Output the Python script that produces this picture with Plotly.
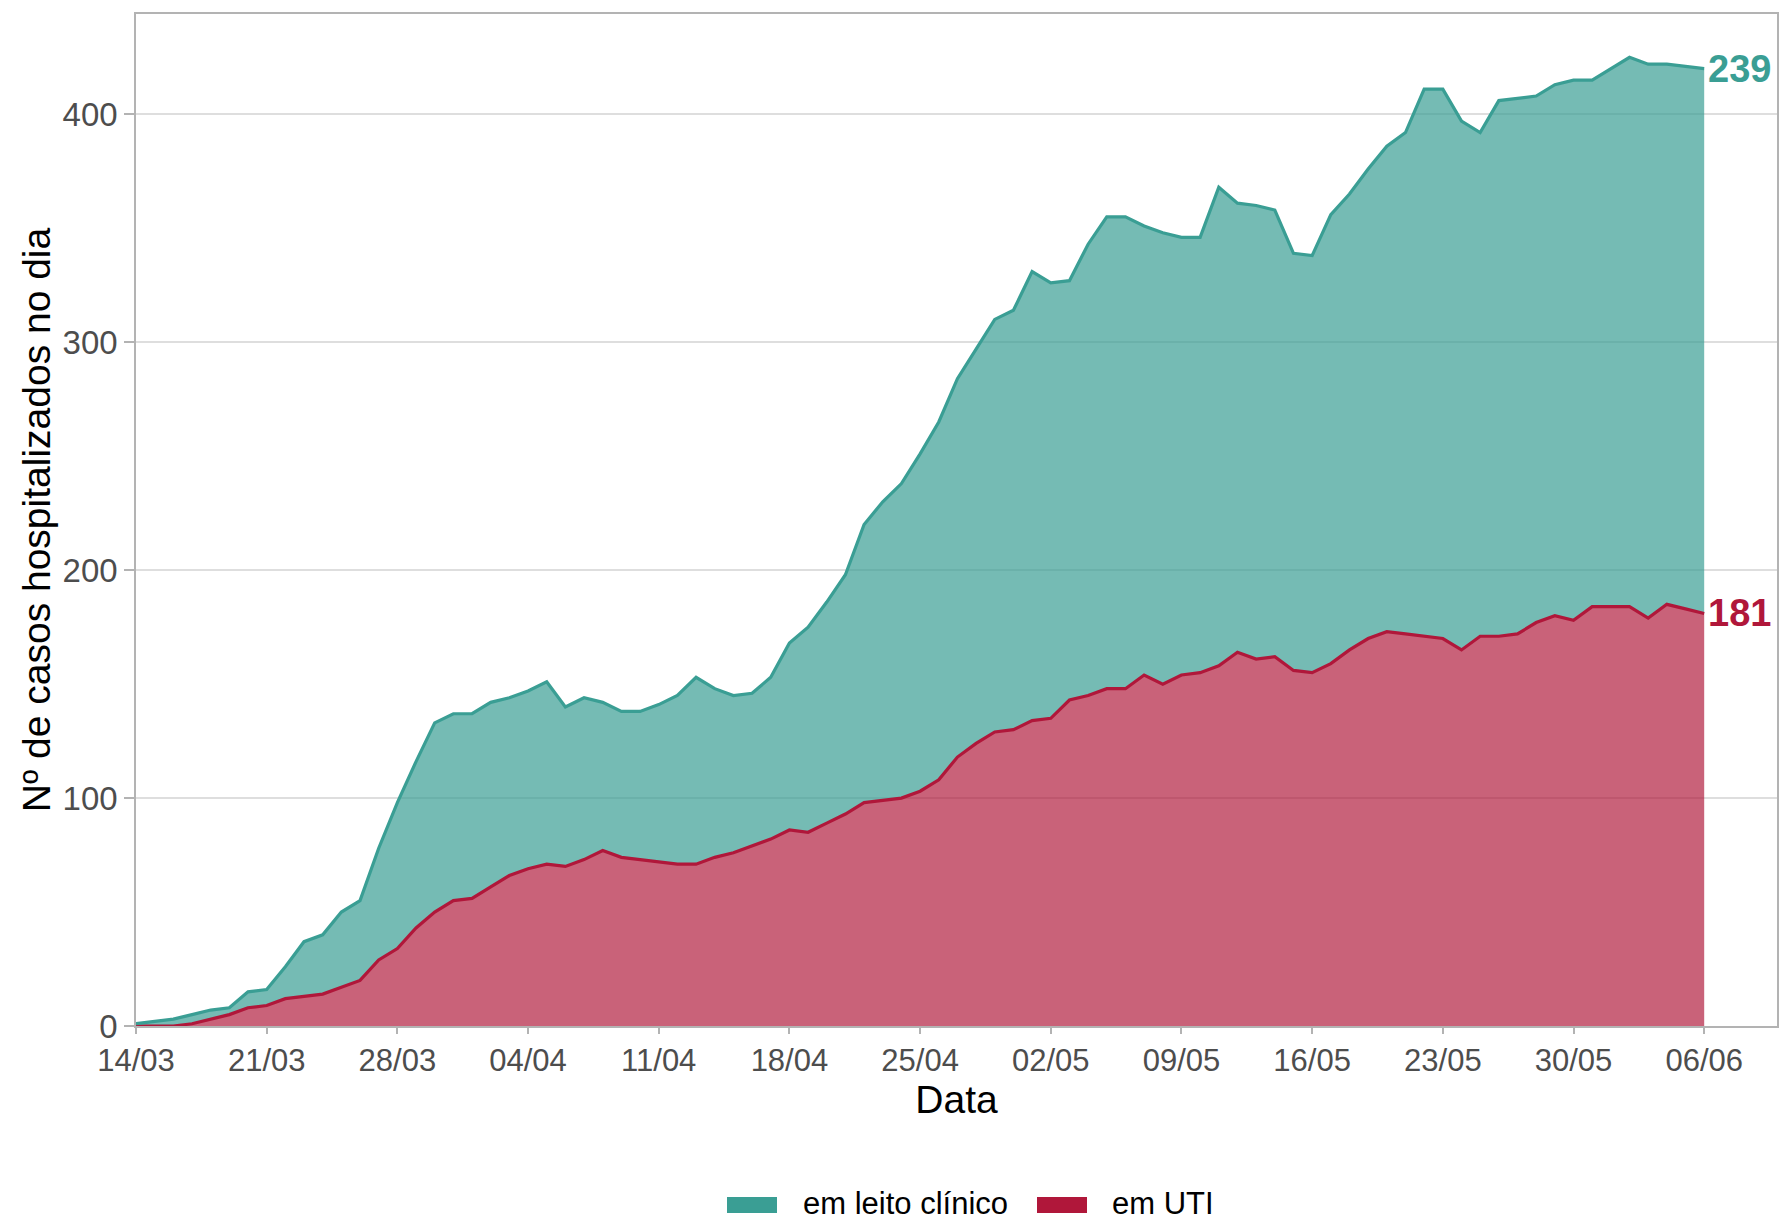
import pandas as pd
import plotly.graph_objects as go

start_date = "2020-03-14"

# Nº de casos em UTI (camada de baixo)
uti = [0, 0, 0, 1, 3, 5, 8, 9, 12, 13,
       14, 17, 20, 29, 34, 43, 50, 55, 56, 61,
       66, 69, 71, 70, 73, 77, 74, 73, 72, 71,
       71, 74, 76, 79, 82, 86, 85, 89, 93, 98,
       99, 100, 103, 108, 118, 124, 129, 130, 134, 135,
       143, 145, 148, 148, 154, 150, 154, 155, 158, 164,
       161, 162, 156, 155, 159, 165, 170, 173, 172, 171,
       170, 165, 171, 171, 172, 177, 180, 178, 184, 184,
       184, 179, 185, 183, 181]

# Nº de casos em leito clínico (empilhado sobre UTI)
leito = [1, 2, 3, 4, 4, 3, 7, 7, 14, 24,
         26, 33, 35, 49, 64, 73, 83, 82, 81, 81,
         78, 78, 80, 70, 71, 65, 64, 65, 69, 74,
         82, 74, 69, 67, 71, 82, 90, 97, 105, 122,
         131, 138, 148, 157, 166, 173, 181, 184, 197, 191,
         184, 198, 207, 207, 197, 198, 192, 191, 210, 197,
         199, 196, 183, 183, 197, 200, 206, 213, 220, 240,
         241, 232, 221, 235, 235, 231, 233, 237, 231, 236,
         241, 243, 237, 238, 239]

tick_dates = ["2020-03-14", "2020-03-21", "2020-03-28", "2020-04-04",
              "2020-04-11", "2020-04-18", "2020-04-25", "2020-05-02",
              "2020-05-09", "2020-05-16", "2020-05-23", "2020-05-30",
              "2020-06-06"]
tick_labels = ["14/03", "21/03", "28/03", "04/04", "11/04", "18/04", "25/04",
               "02/05", "09/05", "16/05", "23/05", "30/05", "06/06"]

legend_labels = ["em leito clínico", "em UTI"]

dates = pd.date_range(start_date, periods=len(uti), freq="D")

TEAL = "#3A9E94"
TEAL_FILL = "rgba(58,158,148,0.70)"
RED = "#B0173A"
RED_FILL = "rgba(176,23,58,0.68)"
FONT = "Liberation Sans, Arial, sans-serif"

W, H = 1781, 1222
ML, MR, MT, MB = 136, 4, 14, 196
PW = W - ML - MR
PH = H - MT - MB


def px_x(p):
    return (p - ML) / PW


def px_y(p):
    return (H - MB - p) / PH


fig = go.Figure()
fig.add_trace(go.Scatter(
    x=dates, y=uti, name=legend_labels[1], mode="lines", stackgroup="one",
    line=dict(color=RED, width=3.2), fillcolor=RED_FILL,
))
fig.add_trace(go.Scatter(
    x=dates, y=leito, name=legend_labels[0], mode="lines", stackgroup="one",
    line=dict(color=TEAL, width=3.2), fillcolor=TEAL_FILL,
))

total_last = uti[-1] + leito[-1]
fig.add_annotation(x=dates[-1], y=total_last, text="<b>%d</b>" % leito[-1],
                   xanchor="left", yanchor="middle", xshift=2, showarrow=False,
                   font=dict(size=38, color=TEAL, family=FONT))
fig.add_annotation(x=dates[-1], y=uti[-1], text="<b>%d</b>" % uti[-1],
                   xanchor="left", yanchor="middle", xshift=2, showarrow=False,
                   font=dict(size=38, color=RED, family=FONT))

# manual legend (swatch + text)
legend_items = [(legend_labels[0], "#3A9E94", 727, 802),
                (legend_labels[1], "#B0173A", 1037, 1111)]
for label, col, sx, tx in legend_items:
    fig.add_shape(type="rect", xref="paper", yref="paper",
                  x0=px_x(sx), x1=px_x(sx + 50), y0=px_y(1213), y1=px_y(1197),
                  fillcolor=col, line=dict(width=0))
    fig.add_annotation(xref="paper", yref="paper", x=px_x(tx), y=px_y(1203),
                       text=label, xanchor="left", yanchor="middle",
                       showarrow=False, borderpad=0,
                       font=dict(size=31, color="#000000", family=FONT))

x_end = dates[0] + pd.Timedelta(days=87.9)

fig.update_layout(
    width=W, height=H,
    margin=dict(l=ML, r=MR, t=MT, b=MB, autoexpand=False),
    plot_bgcolor="white", paper_bgcolor="white",
    font=dict(family=FONT, color="#000000"),
    showlegend=False,
    xaxis=dict(
        type="date", range=[dates[0], x_end], automargin=False,
        tickvals=tick_dates, ticktext=tick_labels,
        tickfont=dict(size=31, color="#4D4D4D", family=FONT),
        ticks="outside", ticklen=6, tickwidth=1.5, tickcolor="#B3B3B3",
        showgrid=False, zeroline=False,
        showline=True, linecolor="#B3B3B3", linewidth=1.5, mirror=True,
        title=dict(text="Data", font=dict(size=39, color="#000000", family=FONT),
                   standoff=8),
    ),
    yaxis=dict(
        range=[0, 444], automargin=False,
        tickvals=[0, 100, 200, 300, 400],
        tickfont=dict(size=33, color="#4D4D4D", family=FONT),
        ticks="outside", ticklen=10, tickwidth=1.5, tickcolor="#B3B3B3",
        showgrid=True, gridcolor="#DEDEDE", gridwidth=1.5, zeroline=False,
        showline=True, linecolor="#B3B3B3", linewidth=1.5, mirror=True,
        title=dict(text="Nº de casos hospitalizados no dia",
                   font=dict(size=39, color="#000000", family=FONT),
                   standoff=0),
    ),
)

fig.write_html("out.html",
               config={"displayModeBar": False},
               post_script="document.body.style.margin='0';"
                           "document.body.style.padding='0';")
